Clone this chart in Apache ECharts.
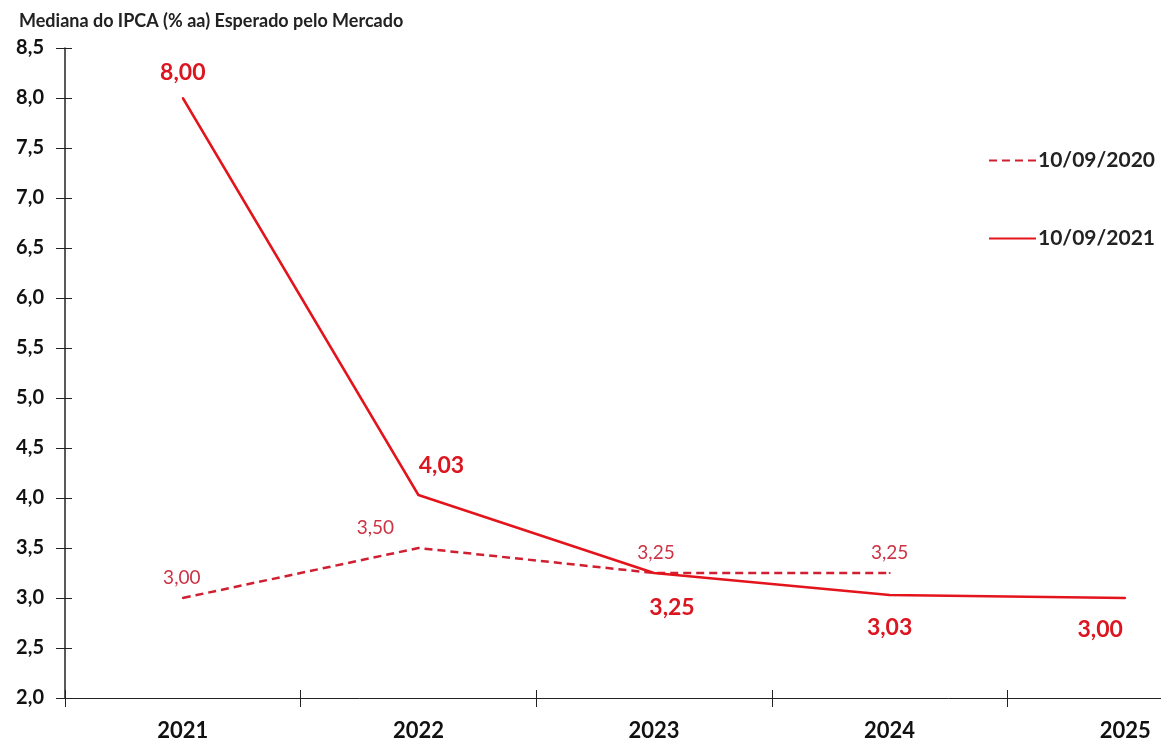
<!DOCTYPE html>
<html lang="pt">
<head>
<meta charset="utf-8" />
<title>Mediana do IPCA</title>
<script src="https://cdn.jsdelivr.net/npm/echarts@6/dist/echarts.min.js"></script>
</head>
<body style="margin:0;background:#fff;overflow:hidden">
<!-- o eixo x continua além da borda direita, como no original -->
<div id="chart" style="width:1243px;height:744px"></div>
<script>
// dados
const anos = ['2021', '2022', '2023', '2024', '2025'];
const ipca2020 = [3.00, 3.50, 3.25, 3.25, null];
const ipca2021 = [8.00, 4.03, 3.25, 3.03, 3.00];
const nomes = ['10/09/2020', '10/09/2021'];

const fonte = 'Lato, "Open Sans", sans-serif';
const fmt = v => v.toFixed(2).replace('.', ',');

// posição de cada rótulo (deslocamento em px)
const offs2020 = [[-1, 0], [-43, 0], [2, 0], [0, 0], [0, 0]];
const offs2021 = [['top', 0, -1], ['top', 23, -5], ['bottom', 18, 10], ['bottom', 0, 8], ['bottom', -25, 7]];

const dados2020 = ipca2020.map((v, i) => v == null ? '-' : {
  value: v,
  label: { offset: offs2020[i] }
});
const dados2021 = ipca2021.map((v, i) => ({
  value: v,
  label: { position: offs2021[i][0], offset: [offs2021[i][1], offs2021[i][2]] }
}));

const chart = echarts.init(document.getElementById('chart'));
chart.setOption({
  animation: false,
  backgroundColor: '#fff',
  textStyle: { fontFamily: fonte },
  title: {
    text: 'Mediana do IPCA (% aa) Esperado pelo Mercado',
    left: 14, top: 7,
    textStyle: { fontSize: 18, fontWeight: 'bold', color: '#222', fontFamily: fonte }
  },
  legend: {
    orient: 'vertical',
    left: 983, top: 145,
    itemGap: 57,
    itemWidth: 47, itemHeight: 14,
    itemStyle: { opacity: 0 },
    textStyle: { fontSize: 21, fontWeight: 'bold', color: '#222', padding: [0, 0, 0, -3] },
    data: nomes
  },
  grid: { left: 65, top: 48, bottom: 46, right: 0, containLabel: false },
  xAxis: [{
    type: 'category',
    data: anos,
    boundaryGap: true,
    axisLine: { lineStyle: { color: '#222', width: 1 } },
    axisTick: { show: true, length: 9, lineStyle: { color: '#222' } },
    axisLabel: { margin: 22, fontSize: 22, fontWeight: 'bold', color: '#111' },
    splitLine: { show: false }
  }, {
    type: 'category',
    data: anos,
    position: 'bottom',
    boundaryGap: true,
    axisLine: { show: false },
    axisTick: { show: true, inside: true, length: 8, lineStyle: { color: '#222' } },
    axisLabel: { show: false },
    splitLine: { show: false }
  }],
  yAxis: [{
    type: 'value',
    min: 2, max: 8.5, interval: 0.5,
    axisLine: { show: true, lineStyle: { color: '#222', width: 1.5 } },
    axisTick: { show: true, length: 9, lineStyle: { color: '#222' } },
    axisLabel: { margin: 21, fontSize: 20, fontWeight: 'bold', color: '#111', formatter: v => v.toFixed(1).replace('.', ',') },
    splitLine: { show: false }
  }, {
    type: 'value',
    position: 'left',
    min: 2, max: 8.5, interval: 0.5,
    axisLine: { show: false },
    axisTick: { show: true, inside: true, length: 7, lineStyle: { color: '#222' } },
    axisLabel: { show: false },
    splitLine: { show: false }
  }],
  series: [{
    name: nomes[0],
    type: 'line',
    data: dados2020,
    symbol: 'circle', symbolSize: 2,
    color: '#d01f30',
    lineStyle: { color: '#d01f30', width: 2.5, type: [8, 5] },
    label: {
      show: true, position: 'top', distance: 10,
      fontSize: 19, color: '#cc3344', formatter: p => fmt(p.value)
    }
  }, {
    name: nomes[1],
    type: 'line',
    data: dados2021,
    symbol: 'circle', symbolSize: 2,
    color: '#e3141c',
    lineStyle: { color: '#e3141c', width: 2.5 },
    label: {
      show: true, distance: 12,
      fontSize: 23, fontWeight: 'bold', color: '#dc1620', formatter: p => fmt(p.value)
    }
  }]
});
window.addEventListener('resize', () => chart.resize());
</script>
</body>
</html>
